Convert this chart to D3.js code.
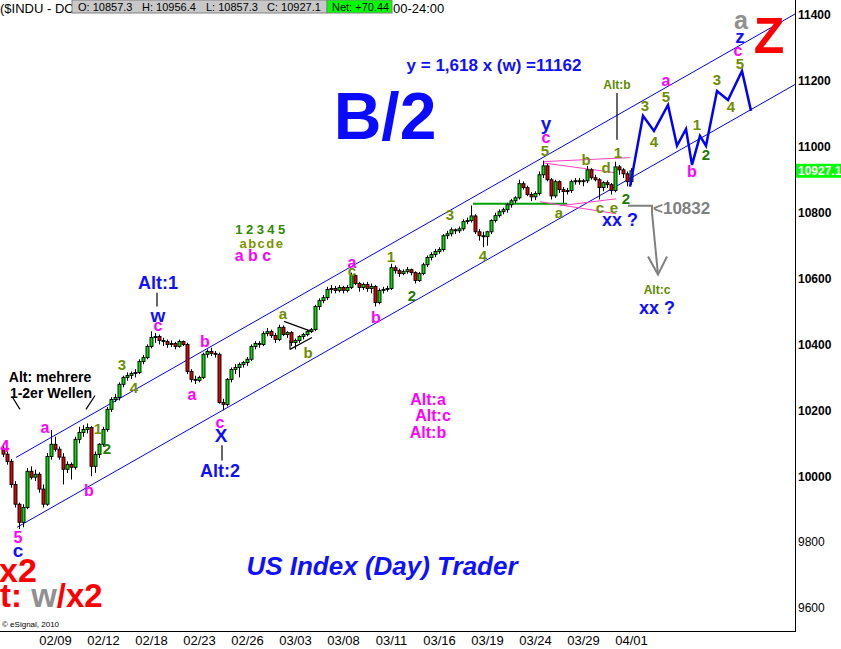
<!DOCTYPE html>
<html>
<head>
<meta charset="utf-8">
<script src="https://cdn.jsdelivr.net/npm/d3@7"></script>
<style>
  body { margin: 0; background: #fff; }
  svg { display: block; font-family: Arial, "Liberation Sans", sans-serif; }
</style>
</head>
<body>
<script>
// 120 min bars $INDU, [open, high, low, close]
var bars = [
  [10085,10098,10058,10067],[10067,10075,10035,10045],[10045,10052,9965,9975],[9975,9985,9905,9915],
  [9915,9920,9840,9860],[9860,9915,9845,9905],[9905,10025,9900,10015],[10015,10030,9990,9997],
  [9997,10020,9985,10006],[10006,10012,9950,9961],[9961,9975,9905,9915],[9915,10070,9910,10060],
  [10060,10140,10050,10097],[10097,10120,10075,10082],[10082,10090,10050,10058],[10058,10070,9975,10021],
  [10021,10045,10010,10036],[10036,10042,9990,10027],[10027,10120,10020,10112],[10112,10150,10100,10133],
  [10133,10155,10120,10142],[10142,10160,10130,10148],[10148,10152,10000,10030],[10030,10075,10010,10066],
  [10066,10100,10055,10097],[10097,10150,10090,10142],[10142,10210,10135,10203],[10203,10240,10195,10233],
  [10233,10250,10225,10239],[10239,10285,10230,10279],[10279,10305,10270,10300],[10300,10315,10290,10306],
  [10306,10318,10295,10312],[10312,10325,10300,10315],[10315,10355,10310,10348],[10348,10368,10340,10360],
  [10360,10400,10355,10394],[10394,10440,10388,10421],[10421,10435,10405,10424],[10424,10430,10400,10412],
  [10412,10420,10395,10409],[10409,10415,10390,10400],[10400,10412,10392,10403],[10403,10408,10385,10394],
  [10394,10415,10390,10409],[10409,10412,10395,10400],[10400,10405,10310,10318],[10318,10325,10285,10294],
  [10294,10305,10280,10291],[10291,10305,10285,10300],[10300,10375,10295,10370],[10370,10385,10360,10379],
  [10379,10390,10365,10373],[10373,10380,10360,10370],[10370,10375,10220,10224],[10224,10235,10200,10218],
  [10218,10298,10212,10294],[10294,10330,10285,10324],[10324,10340,10310,10330],[10330,10345,10300,10339],
  [10339,10350,10330,10345],[10345,10362,10335,10355],[10355,10400,10350,10394],[10394,10410,10385,10403],
  [10403,10410,10390,10400],[10400,10440,10395,10433],[10433,10450,10425,10439],[10439,10445,10420,10427],
  [10427,10435,10405,10415],[10415,10460,10410,10452],[10452,10458,10425,10430],[10430,10440,10420,10436],
  [10436,10440,10395,10406],[10406,10418,10385,10412],[10412,10428,10405,10424],[10424,10435,10415,10430],
  [10430,10445,10425,10439],[10439,10450,10435,10445],[10445,10520,10440,10515],[10515,10540,10505,10533],
  [10533,10550,10525,10542],[10542,10575,10535,10567],[10567,10580,10555,10570],[10570,10578,10555,10564],
  [10564,10580,10558,10573],[10573,10578,10555,10564],[10564,10580,10558,10573],[10573,10618,10568,10609],
  [10609,10612,10580,10585],[10585,10590,10560,10573],[10573,10588,10565,10582],[10582,10590,10560,10570],
  [10570,10585,10555,10576],[10576,10580,10515,10527],[10527,10570,10522,10564],[10564,10575,10555,10567],
  [10567,10578,10560,10570],[10570,10645,10565,10633],[10633,10640,10615,10624],[10624,10630,10605,10615],
  [10615,10628,10610,10621],[10621,10635,10615,10627],[10627,10630,10610,10618],[10618,10622,10585,10594],
  [10594,10620,10590,10615],[10615,10648,10610,10642],[10642,10670,10635,10664],[10664,10680,10655,10673],
  [10673,10690,10665,10682],[10682,10695,10675,10688],[10688,10735,10682,10730],[10730,10745,10720,10736],
  [10736,10755,10728,10748],[10748,10752,10735,10745],[10745,10758,10738,10751],[10751,10780,10745,10773],
  [10773,10785,10765,10776],[10776,10822,10770,10790],[10790,10795,10735,10742],[10742,10750,10715,10730],
  [10730,10742,10695,10727],[10727,10745,10700,10742],[10742,10780,10735,10776],[10776,10800,10770,10791],
  [10791,10810,10785,10803],[10803,10815,10795,10809],[10809,10830,10800,10824],[10824,10842,10815,10836],
  [10836,10850,10828,10845],[10845,10900,10840,10888],[10888,10895,10870,10876],[10876,10882,10850,10855],
  [10855,10862,10835,10848],[10848,10865,10838,10858],[10858,10925,10852,10915],[10915,10958,10905,10942],
  [10942,10948,10895,10900],[10900,10905,10840,10851],[10851,10900,10845,10894],[10894,10898,10860,10870],
  [10870,10878,10830,10864],[10864,10875,10855,10867],[10867,10900,10860,10894],[10894,10905,10885,10897],
  [10897,10905,10885,10894],[10894,10902,10880,10897],[10897,10942,10890,10930],[10930,10935,10900,10906],
  [10906,10915,10895,10900],[10900,10905,10840,10876],[10876,10895,10865,10891],[10891,10898,10875,10885],
  [10885,10890,10855,10867],[10867,10955,10862,10939],[10939,10945,10915,10930],[10930,10935,10905,10918],
  [10918,10925,10880,10894],[10894,10935,10885,10927]
];

var dateTicks  = [13, 25, 37, 49, 61, 73, 85, 97, 109, 121, 133, 145, 157];
var dateLabels = ["02/09","02/12","02/18","02/23","02/26","03/03","03/08","03/11","03/16","03/19","03/24","03/29","04/01"];
var priceTicks = [9600, 9800, 10000, 10200, 10400, 10600, 10800, 11000, 11200, 11400];
var lastPrice = 10927.1;

// trend channel [bar, price]
var channelUpper = [[3.25, 10057], [198, 11403]];
var channelLower = [[3.5, 9845], [198, 11189]];

// projected wave path
var projection = [[156.75,10879],[160,11094],[162.75,11048],[166.25,11127],[168.5,11003],[170.75,11054],
  [172.25,10945],[174.25,11033],[175.75,11003],[178.5,11169],[181.25,11142],[184.75,11230],[187,11109]];

// triangle / support lines
var pinkLines = [
  [[135,10955],[156.75,10967]], [[135,10951],[153.25,10921]],
  [[134.25,10833],[153.25,10797]], [[139.25,10821],[153.25,10842]]
];
var greenLine = [[117.5,10827],[141,10827]];
var blackLines = [
  [[38.5,10557],[38.5,10515]], [[54.75,10094],[54.75,10048]], [[153.5,11163],[153.5,11021]],
  [[2.25,10242],[4.25,10203]], [[23,10245],[20.75,10203]],
  [[70.25,10470],[77.25,10439]], [[71.75,10385],[77.25,10421]], [[71.75,10385],[71.75,10412]]
];
var grayArrow = [[156.25,10821],[162.25,10821],[162.25,10800],[163.75,10612]];
var grayArrowHead = [[161.25,10667],[163.75,10612],[166,10667]];

// wave labels [bar, price, text]
var magentaLabels = [[0.5,10091,"4"],[10.5,10148,"a"],[21.5,9957,"b"],[38.75,10457,"c"],[47.25,10248,"a"],
  [50.5,10409,"b"],[54.25,10163,"c"],[3.75,9815,"5"],[87.25,10648,"a"],[93.25,10481,"b"],[135.75,11027,"c"],
  [165.75,11203,"a"],[172.25,10924,"b"],[183.75,11294,"c"]];
var blueLabels = [[38.75,10488,"w"],[54.5,10124,"X"],[3.75,9776,"c"],[135.75,11072,"y"],[184.25,11336,"z"]];
var blueAltLabels = [[38.75,10588,"Alt:1"],[54.25,10018,"Alt:2"],[154.25,10779,"xx ?"],[163.5,10512,"xx ?"]];
var oliveLabels = [[23.75,10145,"1"],[29.75,10339,"3"],[32.75,10269,"4"],[70,10494,"a"],[76.25,10375,"b"],
  [87.25,10624,"c"],[97,10666,"1"],[111.75,10794,"3"],[120,10669,"4"],[135.5,10988,"5"],[145.75,10961,"b"],
  [150.75,10936,"d"],[153.75,10981,"1"],[139,10800,"a"],[149.25,10815,"c"],[152.75,10815,"e"],
  [160.5,11124,"3"],[162.75,11015,"4"],[165.75,11151,"5"],[173.5,11067,"1"],[178.5,11203,"3"],
  [182,11121,"4"],[184.25,11251,"5"]];
var greenLabels = [[26,10082,"2"],[102.25,10548,"2"],[155.75,10842,"2"],[175.75,10975,"2"]];
var altMagentaLabels = [[106.25,10233,"Alt:a"],[107.5,10185,"Alt:c"],[106.25,10133,"Alt:b"]];
var altOliveLabels = [[153.5,11188,"Alt:b"],[163.5,10567,"Alt:c"]];
var noteLabels = [[11.75,10300,"Alt: mehrere"],[12,10251,"1-2er Wellen"]];
var countLabels = [[64.75,10748,"12345"],[64.75,10706,"abcde"],[62.5,10669,"a b c"]];

var W = 841, H = 649;
var plotRight = 795, plotBottom = 631;

var x = d3.scaleLinear().domain([0, 157]).range([3, 631]);
var y = d3.scaleLinear().domain([9600, 11400]).range([608, 15]);

var svg = d3.select("body").append("svg")
    .attr("width", W)
    .attr("height", H);

svg.append("defs").append("clipPath").attr("id", "plot")
  .append("rect").attr("x", 0).attr("y", 0).attr("width", plotRight).attr("height", plotBottom);

var plot = svg.append("g").attr("clip-path", "url(#plot)");

var line = d3.line().x(function(d) { return x(d[0]); }).y(function(d) { return y(d[1]); });

// channel
[channelUpper, channelLower].forEach(function(c) {
  plot.append("path").attr("d", line(c))
      .style("stroke", "#0000ff").style("stroke-width", 1).style("fill", "none");
});

// green support + pink triangle
plot.append("path").attr("d", line(greenLine))
    .style("stroke", "#00a000").style("stroke-width", 2).style("fill", "none");
pinkLines.forEach(function(l) {
  plot.append("path").attr("d", line(l))
      .style("stroke", "#ff40c0").style("stroke-width", 1).style("fill", "none");
});

// candles
var bw = 3;
var candles = plot.selectAll(".candle").data(bars).enter().append("g").attr("class", "candle");
candles.append("line")
    .attr("x1", function(d, i) { return Math.round(x(i)) + 0.5; })
    .attr("x2", function(d, i) { return Math.round(x(i)) + 0.5; })
    .attr("y1", function(d) { return y(d[1]); })
    .attr("y2", function(d) { return y(d[2]); })
    .style("stroke", "#000").style("stroke-width", 1);
candles.append("rect")
    .attr("x", function(d, i) { return Math.round(x(i)) - 1; })
    .attr("width", bw)
    .attr("y", function(d) { return y(Math.max(d[0], d[3])); })
    .attr("height", function(d) { return Math.max(1, Math.abs(y(d[0]) - y(d[3]))); })
    .style("fill", function(d) { return d[3] >= d[0] ? "#00e000" : "#e00000"; })
    .style("stroke", "#000").style("stroke-width", 0.9);

// black helper lines
blackLines.forEach(function(l) {
  plot.append("path").attr("d", line(l))
      .style("stroke", "#000").style("stroke-width", 1.2).style("fill", "none");
});

// gray arrow to <10832
plot.append("path").attr("d", line(grayArrow))
    .style("stroke", "#808080").style("stroke-width", 2).style("fill", "none");
plot.append("path").attr("d", line(grayArrowHead))
    .style("stroke", "#808080").style("stroke-width", 2).style("fill", "none");

// projected path
plot.append("path").attr("d", line(projection))
    .style("stroke", "#0000ff").style("stroke-width", 2.5)
    .style("stroke-linejoin", "miter").style("fill", "none");

// labels
function addLabels(data, color, size, opts) {
  opts = opts || {};
  svg.selectAll(null).data(data).enter().append("text")
      .attr("x", function(d) { return x(d[0]); })
      .attr("y", function(d) { return y(d[1]); })
      .attr("dy", "0.35em")
      .attr("text-anchor", opts.anchor || "middle")
      .style("font-size", size + "px")
      .style("font-weight", opts.weight || "bold")
      .style("letter-spacing", opts.spacing || null)
      .style("fill", color)
      .text(function(d) { return d[2]; });
}

addLabels(magentaLabels, "#ff00ff", 16);
addLabels(blueLabels, "#1010ff", 19);
addLabels(blueAltLabels, "#1010ff", 18);
addLabels(oliveLabels, "#6e8e00", 15);
addLabels(greenLabels, "#1e7a00", 15);
addLabels(altMagentaLabels, "#ff00ff", 16);
addLabels(altOliveLabels, "#5e8a00", 12);
addLabels(noteLabels, "#000", 14);
addLabels([countLabels[0]], "#2e8a00", 13, {spacing: "3.5px"});
addLabels([countLabels[1]], "#7a9400", 13, {spacing: "1.5px"});
addLabels([countLabels[2]], "#ff00ff", 16);
addLabels([[184.5, 11385, "a"]], "#909090", 25);
addLabels([[162.5, 10815, "<10832"]], "#808080", 17, {anchor: "start"});

// big texts
svg.append("text").attr("x", 385).attr("y", 139)
    .attr("text-anchor", "middle")
    .style("font-size", "66px").style("font-weight", "bold").style("fill", "#0a0aff")
    .text("B/2");
svg.append("text").attr("x", 494).attr("y", 71)
    .attr("text-anchor", "middle")
    .style("font-size", "17px").style("font-weight", "bold").style("fill", "#1010ff")
    .text("y = 1,618 x (w) =11162");
svg.append("text").attr("x", 382).attr("y", 575)
    .attr("text-anchor", "middle")
    .style("font-size", "26px").style("font-weight", "bold").style("font-style", "italic")
    .style("fill", "#1010ff")
    .text("US Index (Day) Trader");
svg.append("text").attr("x", 769).attr("y", 53)
    .attr("text-anchor", "middle")
    .style("font-size", "50px").style("font-weight", "bold").style("fill", "#ff0000")
    .text("Z");
svg.append("text").attr("x", -1).attr("y", 582)
    .style("font-size", "34px").style("font-weight", "bold").style("fill", "#ff0000")
    .text("x2");
var t2 = svg.append("text").attr("x", 0).attr("y", 607)
    .style("font-size", "33px").style("font-weight", "bold");
t2.append("tspan").style("fill", "#ff0000").text("t: ");
t2.append("tspan").style("fill", "#909090").text("w");
t2.append("tspan").style("fill", "#ff0000").text("/x2");

svg.append("text").attr("x", 2).attr("y", 627)
    .style("font-size", "8px").style("fill", "#000")
    .text("\u00a9 eSignal, 2010");

// axes
var yAxis = d3.axisRight(y).tickValues(priceTicks).tickSize(0).tickPadding(3)
    .tickFormat(d3.format("d"));
var gy = svg.append("g").attr("transform", "translate(" + plotRight + ",0)").call(yAxis);
gy.select(".domain").remove();
gy.selectAll("text")
    .style("font-family", "Arial, 'Liberation Sans', sans-serif")
    .style("font-size", "12px")
    .style("font-weight", function(d) { return d < 10000 ? "normal" : "bold"; })
    .style("fill", "#000");

var xAxis = d3.axisBottom(x).tickValues(dateTicks).tickSize(0).tickPadding(5)
    .tickFormat(function(d, i) { return dateLabels[i]; });
var gx = svg.append("g").attr("transform", "translate(0," + plotBottom + ")").call(xAxis);
gx.select(".domain").remove();
gx.selectAll("text")
    .style("font-family", "'Liberation Sans Narrow', 'Arial Narrow', Arial, sans-serif")
    .style("font-size", "13px")
    .style("fill", "#000");

// frame
svg.append("line").attr("x1", plotRight + 0.5).attr("x2", plotRight + 0.5).attr("y1", 0).attr("y2", plotBottom + 1)
    .style("stroke", "#000");
svg.append("line").attr("x1", 0).attr("x2", plotRight + 1).attr("y1", plotBottom + 0.5).attr("y2", plotBottom + 0.5)
    .style("stroke", "#000");

// last price tag
var tag = svg.append("g").attr("transform", "translate(" + (plotRight + 1) + "," + y(lastPrice) + ")");
tag.append("rect").attr("x", 0).attr("y", -7).attr("width", 46).attr("height", 14).style("fill", "#00ff00");
tag.append("text").attr("x", 2).attr("dy", "0.35em")
    .style("font-size", "12px").style("font-weight", "bold").style("fill", "#fff")
    .text(d3.format(".1f")(lastPrice));

// header
svg.append("text").attr("x", 0).attr("y", 13)
    .style("font-size", "13px").style("fill", "#000")
    .text("($INDU - DO");
svg.append("text").attr("x", 393).attr("y", 13)
    .style("font-size", "13px").style("fill", "#000")
    .text("00-24:00");
var hdr = svg.append("g");
hdr.append("rect").attr("x", 72).attr("y", 0).attr("width", 255).attr("height", 13)
    .style("fill", "#c8c8c8").style("stroke", "#808080").style("stroke-width", 1);
hdr.append("rect").attr("x", 327).attr("y", 0).attr("width", 65).attr("height", 13)
    .style("fill", "#00ff00").style("stroke", "#808080").style("stroke-width", 1);
[[78, "O: 10857.3"], [142, "H: 10956.4"], [206, "L: 10857.3"], [267, "C: 10927.1"], [332, "Net: +70.44"]]
  .forEach(function(h) {
    hdr.append("text").attr("x", h[0]).attr("y", 10.5)
        .style("font-size", "11px").style("fill", "#000").text(h[1]);
  });
</script>
</body>
</html>
